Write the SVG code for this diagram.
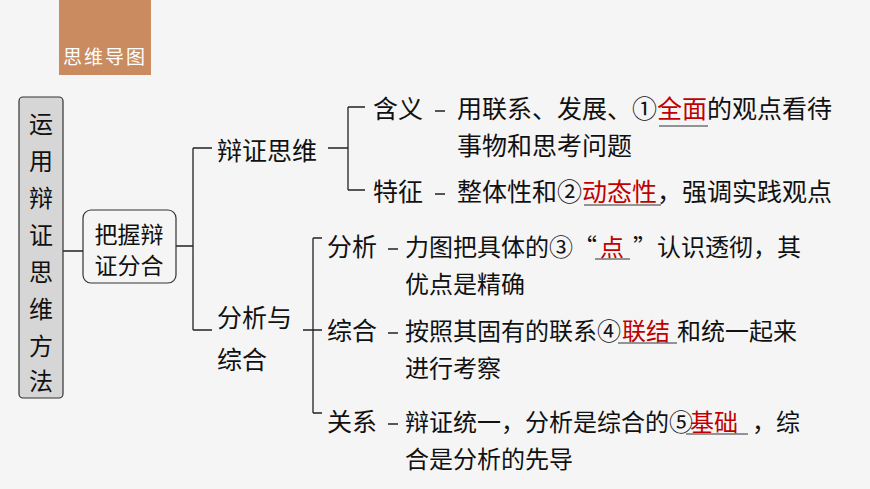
<svg xmlns="http://www.w3.org/2000/svg" width="870" height="489" viewBox="0 0 870 489">
<style>
text{font-family:"Noto Sans CJK SC","Liberation Sans",sans-serif;fill:#111}
.t{font-size:24px}
.s{font-size:25px}
.r{fill:#c00000}
.l{stroke:#222;stroke-width:1.3;fill:none}
.u{stroke:#333;stroke-width:1.2}
</style>
<rect width="870" height="489" fill="#f5f5f5"/>
<g id="badge"><rect x="59" y="0" width="92" height="75" fill="#c98b5f"/><text x="105" y="64" font-size="19" letter-spacing="2" text-anchor="middle" style="fill:#fff">思维导图</text></g>
<g id="connectors">
<path class="l" d="M63 251H83M176 246H193M193 148V330M193 148H212M193 330H212M328 148H342M348 107V190M342 148H348M348 107H365M348 190H365M303 330H322M313 238V413M313 238H322M313 413H322"/>
<path class="l" d="M435 111H445M435 194H445M388 249H398M388 333H398M388 424H398"/>
</g>
<g id="root"><rect x="19" y="97" width="44" height="301" rx="4" fill="#d6d6d6" stroke="#333" stroke-width="1.2"/>
<text font-size="24" text-anchor="middle"><tspan x="41" y="133">运</tspan><tspan x="41" y="170">用</tspan><tspan x="41" y="207">辩</tspan><tspan x="41" y="244">证</tspan><tspan x="41" y="281">思</tspan><tspan x="41" y="318">维</tspan><tspan x="41" y="355">方</tspan><tspan x="41" y="390">法</tspan></text></g>
<g id="n1"><rect x="83" y="210" width="93" height="73" rx="8" fill="#f5f5f5" stroke="#333" stroke-width="1.2"/><text x="129" y="243" font-size="23" text-anchor="middle">把握辩</text><text x="129" y="274" font-size="23" text-anchor="middle">证分合</text></g>
<g id="n2"><text class="s" x="217" y="160">辩证思维</text></g>
<g id="n3"><text class="s" x="217" y="327">分析与</text><text class="s" x="217" y="369">综合</text></g>
<g id="n4"><text class="s" x="373" y="118">含义</text><text class="s" x="457" y="118">用联系、发展、①</text><text class="s r" x="657" y="118">全面</text><text class="s" x="707" y="118">的观点看待</text><text class="s" x="457" y="155">事物和思考问题</text><line class="u" x1="659" y1="126" x2="708" y2="126"/></g>
<g id="n5"><text class="s" x="373" y="201">特征</text><text class="s" x="457" y="201">整体性和②</text><text class="s r" x="582" y="201">动态性</text><text class="s" x="657" y="201">，强调实践观点</text><line class="u" x1="584" y1="205" x2="661" y2="205"/></g>
<g id="n6"><text class="s" x="327" y="256">分析</text><text class="t" x="405" y="256">力图把具体的③“</text><text class="t r" x="600" y="256">点</text><text class="t" x="633" y="256">”认识透彻，其</text><text class="t" x="405" y="293">优点是精确</text><line class="u" x1="595" y1="259" x2="630" y2="259"/></g>
<g id="n7"><text class="s" x="327" y="340">综合</text><text class="t" x="405" y="340">按照其固有的联系④</text><text class="t r" x="622" y="340">联结</text><text class="t" x="677" y="340">和统一起来</text><text class="t" x="405" y="377">进行考察</text><line class="u" x1="618" y1="343" x2="677" y2="343"/></g>
<g id="n8"><text class="s" x="327" y="431">关系</text><text class="t" x="405" y="431">辩证统一，分析是综合的⑤</text><text class="t r" x="690" y="431">基础</text><text class="t" x="752" y="431">，综</text><text class="t" x="405" y="468">合是分析的先导</text><line class="u" x1="686" y1="434" x2="748" y2="434"/></g>
</svg>
